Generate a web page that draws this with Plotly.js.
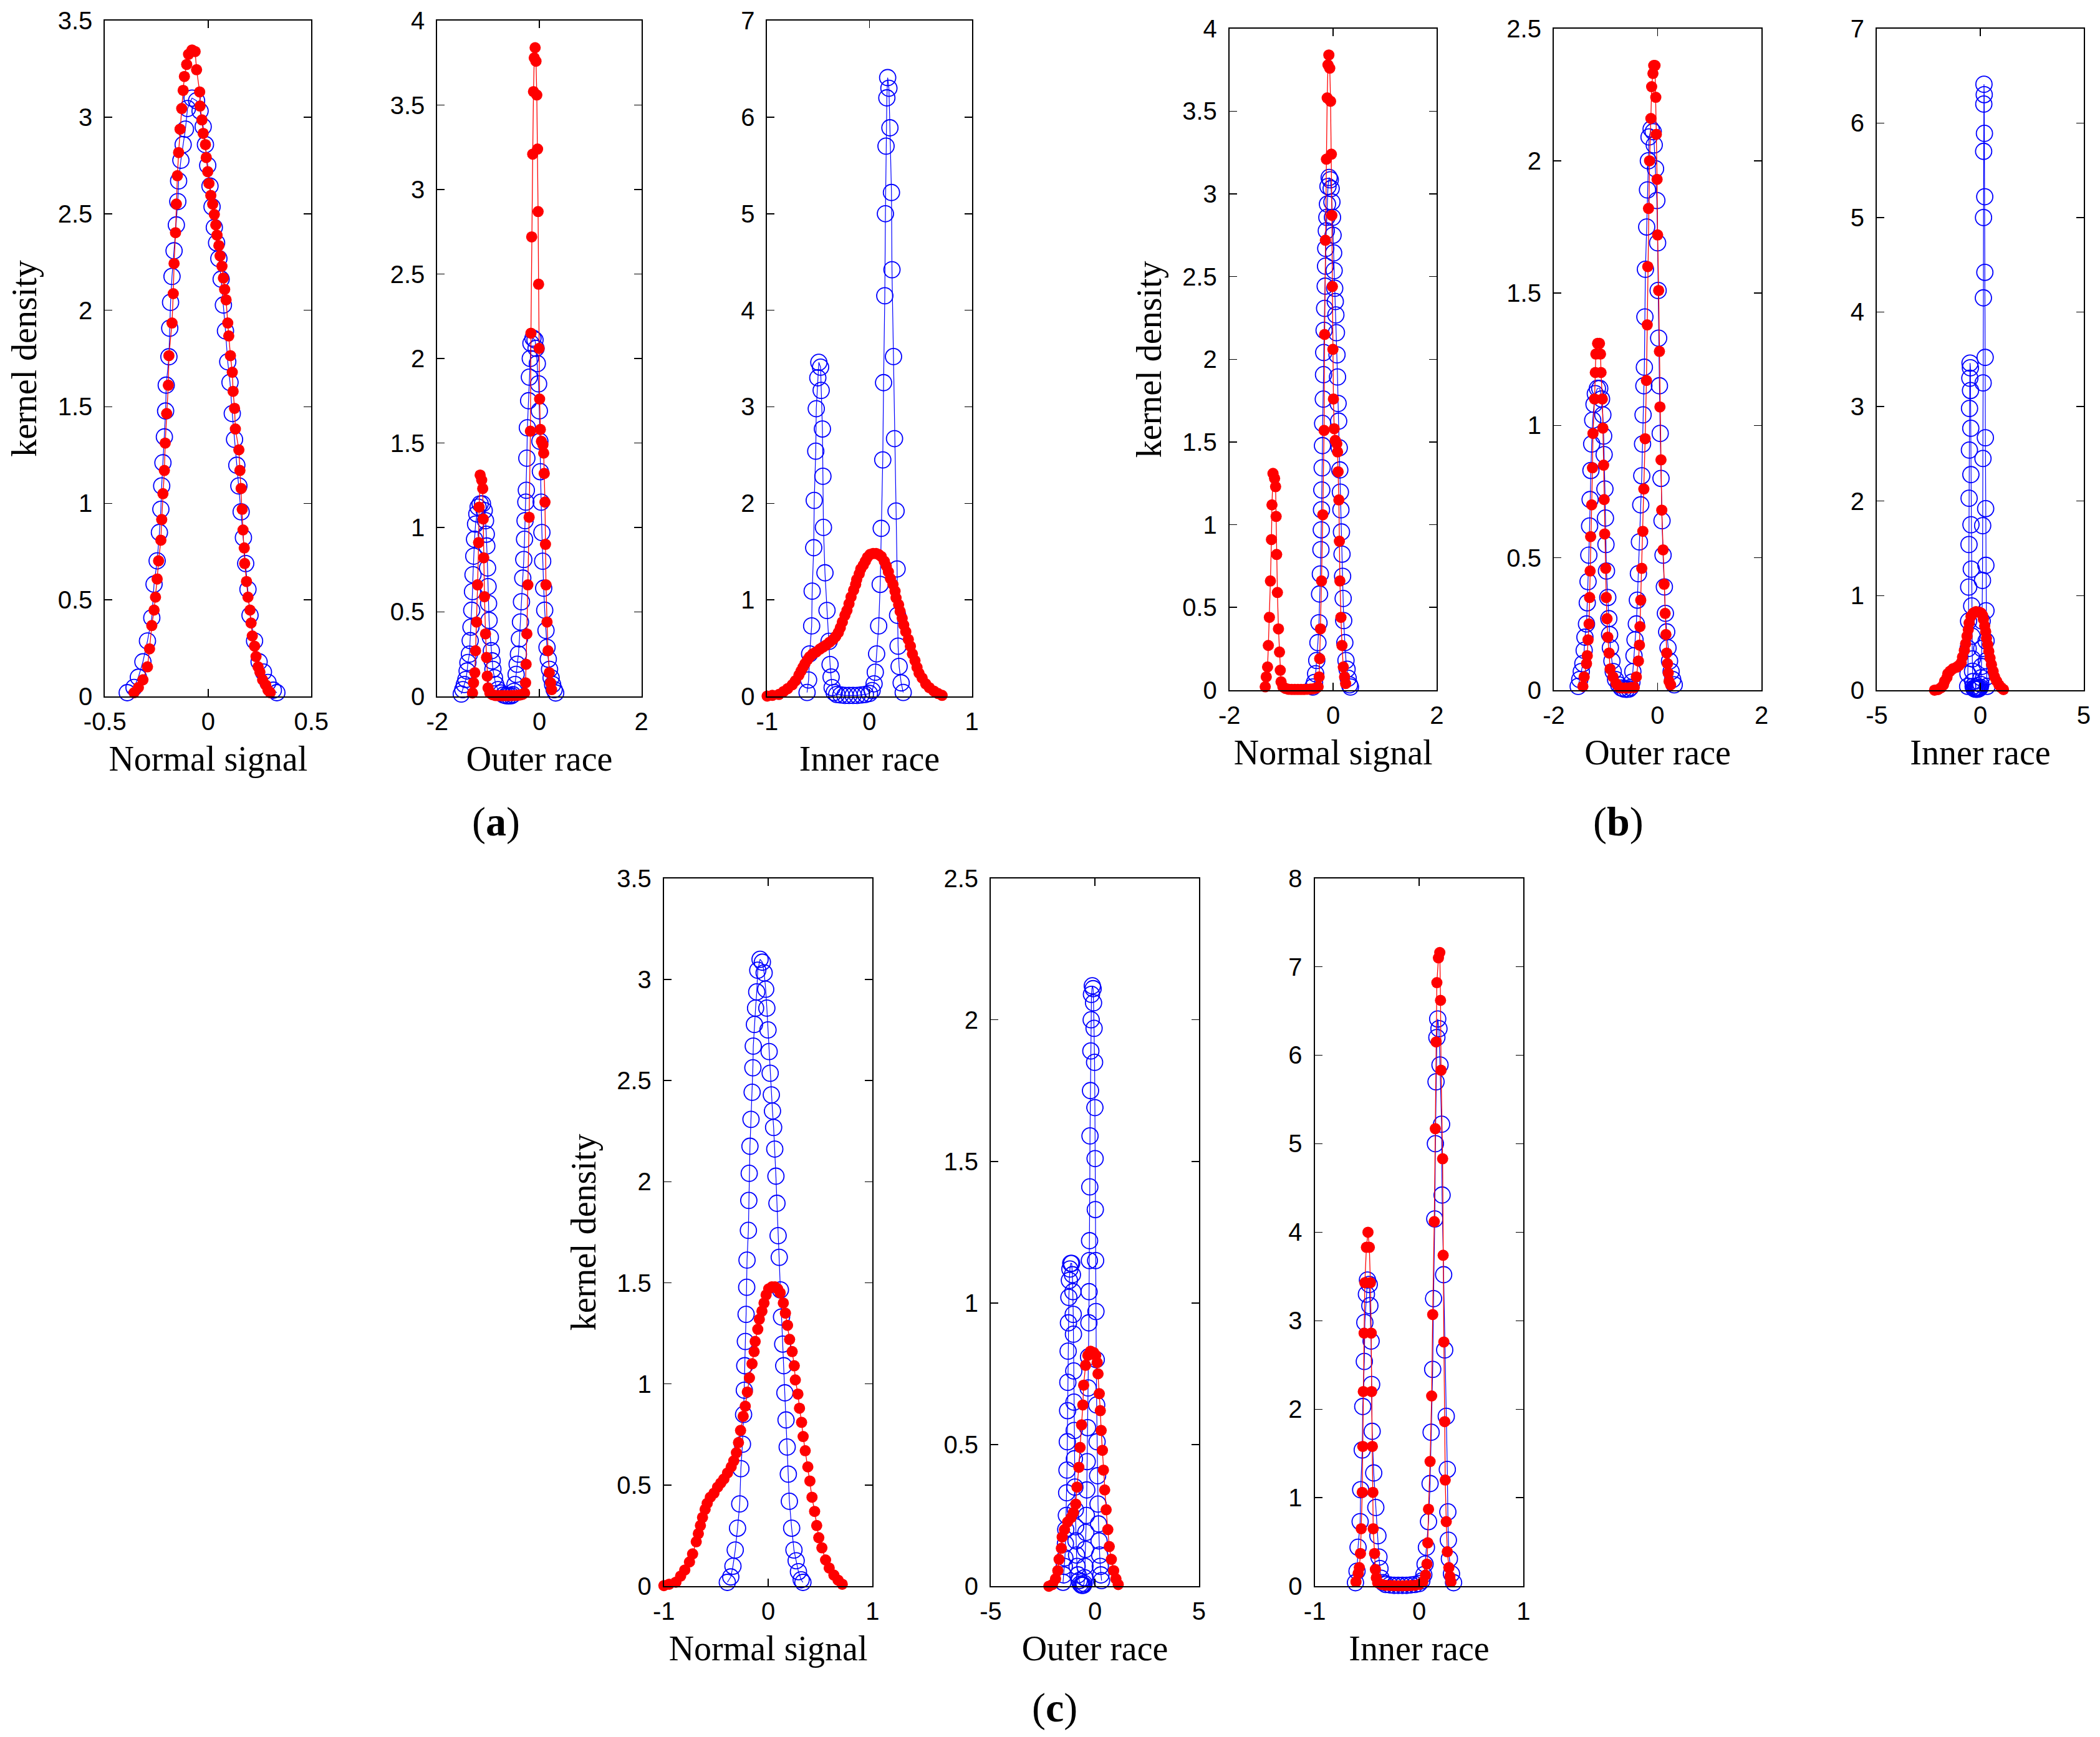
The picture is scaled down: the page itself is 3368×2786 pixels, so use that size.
<!DOCTYPE html>
<html>
<head>
<meta charset="utf-8">
<script src="https://cdn.plot.ly/plotly-3.0.1.min.js"></script>
<style>
  html, body { margin: 0; padding: 0; background: #fff; }
  #fig { width: 3368px; height: 2786px; }
</style>
</head>
<body>
<div id="fig"></div>
<script>
// ---- reference densities (blue, open circles) : same curve in (a), (b), (c)
const normX = [-0.392,-0.359,-0.338,-0.316,-0.294,-0.273,-0.262,-0.247,-0.236,-0.229,-0.225,-0.219,-0.212,-0.206,-0.203,-0.19,-0.186,-0.182,-0.175,-0.165,-0.154,-0.147,-0.143,-0.132,-0.121,-0.11,-0.1,-0.078,-0.056,-0.039,-0.024,-0.013,-0.002,0.009,0.019,0.03,0.041,0.052,0.063,0.074,0.084,0.095,0.106,0.117,0.128,0.139,0.149,0.16,0.171,0.182,0.193,0.203,0.225,0.247,0.268,0.29,0.316,0.333];
const normY = [0.019,0.046,0.099,0.179,0.287,0.407,0.581,0.702,0.849,0.969,1.09,1.21,1.344,1.478,1.612,1.759,1.907,2.041,2.175,2.308,2.442,2.563,2.67,2.777,2.858,2.938,3.045,3.099,3.085,3.032,2.951,2.858,2.75,2.643,2.536,2.429,2.349,2.268,2.161,2.027,1.893,1.733,1.626,1.465,1.331,1.197,1.09,0.956,0.822,0.688,0.554,0.42,0.287,0.179,0.126,0.072,0.032,0.019];

const outerX = [-1.53,-1.50,-1.47,-1.44,-1.415,-1.40,-1.37,-1.355,-1.34,-1.325,-1.31,-1.30,-1.285,-1.27,-1.25,-1.225,-1.20,-1.16,-1.115,-1.08,-1.055,-1.04,-1.03,-1.015,-1.005,-0.995,-0.985,-0.96,-0.94,-0.925,-0.91,-0.88,-0.855,-0.81,-0.75,-0.70,-0.65,-0.60,-0.55,-0.52,-0.495,-0.477,-0.455,-0.435,-0.41,-0.39,-0.37,-0.35,-0.325,-0.305,-0.29,-0.28,-0.265,-0.255,-0.245,-0.235,-0.21,-0.195,-0.178,-0.165,-0.125,-0.085,-0.065,-0.04,-0.015,0.0,0.01,0.02,0.035,0.05,0.065,0.085,0.105,0.13,0.15,0.175,0.2,0.23,0.26,0.29,0.32];
const outerY = [0.014,0.04,0.07,0.10,0.15,0.20,0.25,0.33,0.41,0.51,0.62,0.72,0.83,0.93,1.02,1.08,1.12,1.14,1.14,1.10,1.04,0.96,0.89,0.76,0.65,0.55,0.45,0.35,0.27,0.21,0.16,0.11,0.07,0.04,0.02,0.008,0.004,0.003,0.004,0.01,0.03,0.07,0.13,0.19,0.25,0.34,0.44,0.56,0.70,0.81,0.93,1.04,1.15,1.22,1.41,1.59,1.75,1.89,2.0,2.09,2.12,2.11,2.06,1.97,1.85,1.69,1.51,1.33,1.15,0.97,0.80,0.64,0.51,0.39,0.29,0.22,0.16,0.11,0.07,0.04,0.02];

const innerX = [-0.61,-0.595,-0.585,-0.565,-0.56,-0.545,-0.54,-0.525,-0.52,-0.505,-0.495,-0.478,-0.472,-0.46,-0.455,-0.45,-0.435,-0.415,-0.395,-0.385,-0.375,-0.365,-0.345,-0.32,-0.28,-0.24,-0.20,-0.16,-0.12,-0.08,-0.04,0.0,0.026,0.045,0.057,0.07,0.09,0.105,0.115,0.13,0.138,0.15,0.156,0.162,0.17,0.178,0.19,0.2,0.215,0.22,0.235,0.245,0.26,0.27,0.275,0.28,0.29,0.31,0.33];
const innerY = [0.04,0.17,0.44,0.73,1.09,1.54,2.03,2.54,2.98,3.30,3.46,3.41,3.17,2.77,2.28,1.75,1.28,0.89,0.57,0.33,0.20,0.09,0.04,0.02,0.015,0.01,0.01,0.01,0.01,0.015,0.02,0.03,0.06,0.13,0.25,0.44,0.73,1.16,1.74,2.45,3.25,4.15,5.0,5.70,6.20,6.41,6.30,5.89,5.22,4.42,3.52,2.67,1.92,1.32,0.84,0.52,0.31,0.14,0.04];

// ---- test densities (red, filled dots)
const redA1X = [-0.359,-0.338,-0.316,-0.294,-0.284,-0.273,-0.262,-0.255,-0.247,-0.24,-0.229,-0.225,-0.219,-0.212,-0.208,-0.201,-0.193,-0.19,-0.175,-0.169,-0.165,-0.158,-0.154,-0.149,-0.143,-0.136,-0.128,-0.121,-0.115,-0.104,-0.095,-0.078,-0.063,-0.056,-0.041,-0.039,-0.03,-0.024,-0.013,-0.009,-0.002,0.004,0.013,0.022,0.03,0.037,0.043,0.052,0.058,0.067,0.074,0.08,0.087,0.095,0.1,0.108,0.117,0.121,0.128,0.132,0.149,0.154,0.16,0.165,0.169,0.175,0.177,0.186,0.193,0.203,0.208,0.214,0.225,0.232,0.242,0.251,0.264,0.279,0.29,0.301];
const redA1Y = [0.019,0.046,0.086,0.153,0.246,0.367,0.447,0.514,0.608,0.702,0.809,0.916,1.05,1.17,1.312,1.465,1.612,1.765,1.934,2.086,2.242,2.402,2.55,2.697,2.817,2.938,3.045,3.139,3.211,3.273,3.326,3.348,3.34,3.246,3.131,3.058,2.986,2.916,2.858,2.791,2.718,2.657,2.595,2.55,2.496,2.442,2.389,2.335,2.282,2.228,2.167,2.108,2.054,1.934,1.867,1.765,1.679,1.58,1.492,1.385,1.277,1.17,1.077,0.969,0.862,0.769,0.688,0.595,0.514,0.447,0.38,0.313,0.26,0.206,0.153,0.126,0.086,0.059,0.032,0.019];

const redOuterX = [-1.31,-1.29,-1.265,-1.25,-1.23,-1.21,-1.19,-1.18,-1.16,-1.13,-1.11,-1.10,-1.09,-1.075,-1.055,-1.035,-1.02,-1.005,-0.97,-0.92,-0.86,-0.80,-0.74,-0.68,-0.62,-0.56,-0.50,-0.44,-0.38,-0.33,-0.29,-0.27,-0.26,-0.245,-0.225,-0.2,-0.175,-0.165,-0.15,-0.13,-0.115,-0.1,-0.083,-0.066,-0.05,-0.035,-0.025,-0.015,-0.005,0.005,0.02,0.04,0.07,0.085,0.095,0.11,0.12,0.13,0.15,0.17,0.195,0.22,0.24];
const redOuterY = [0.02,0.08,0.14,0.27,0.44,0.66,0.91,1.12,1.31,1.28,1.23,1.05,0.82,0.59,0.37,0.23,0.12,0.05,0.02,0.01,0.005,0.004,0.004,0.004,0.004,0.004,0.005,0.006,0.008,0.012,0.02,0.08,0.19,0.37,0.66,1.06,1.57,2.15,2.72,3.21,3.58,3.78,3.84,3.76,3.56,3.24,2.87,2.44,2.06,1.76,1.58,1.51,1.49,1.44,1.32,1.15,0.90,0.66,0.44,0.27,0.14,0.08,0.04];

const redInnerX = [-1.0,-0.95,-0.885,-0.84,-0.80,-0.755,-0.725,-0.69,-0.67,-0.65,-0.63,-0.605,-0.585,-0.555,-0.52,-0.485,-0.455,-0.425,-0.39,-0.355,-0.33,-0.305,-0.285,-0.265,-0.24,-0.22,-0.2,-0.18,-0.155,-0.135,-0.125,-0.1,-0.085,-0.06,-0.04,-0.02,0.005,0.035,0.065,0.09,0.115,0.145,0.165,0.185,0.205,0.23,0.25,0.26,0.285,0.30,0.32,0.335,0.355,0.38,0.40,0.42,0.445,0.465,0.485,0.515,0.55,0.585,0.63,0.67,0.71];
const redInnerY = [0.003,0.01,0.02,0.05,0.08,0.12,0.16,0.22,0.26,0.30,0.34,0.38,0.41,0.44,0.46,0.49,0.51,0.53,0.56,0.59,0.62,0.66,0.71,0.77,0.84,0.89,0.96,1.03,1.10,1.16,1.21,1.27,1.32,1.36,1.40,1.44,1.47,1.48,1.48,1.47,1.45,1.40,1.35,1.29,1.22,1.16,1.09,1.02,0.95,0.88,0.81,0.74,0.67,0.59,0.52,0.44,0.37,0.30,0.24,0.19,0.13,0.09,0.055,0.03,0.01];

const redB2X = [-1.44,-1.415,-1.37,-1.355,-1.34,-1.32,-1.31,-1.30,-1.29,-1.27,-1.255,-1.245,-1.215,-1.20,-1.19,-1.157,-1.12,-1.10,-1.09,-1.065,-1.055,-1.04,-1.03,-1.02,-1.0,-0.99,-0.975,-0.96,-0.935,-0.915,-0.86,-0.80,-0.74,-0.68,-0.62,-0.56,-0.50,-0.45,-0.41,-0.37,-0.35,-0.34,-0.325,-0.305,-0.285,-0.265,-0.24,-0.215,-0.20,-0.19,-0.175,-0.155,-0.13,-0.115,-0.09,-0.075,-0.05,-0.035,-0.025,-0.01,0.0,0.02,0.035,0.045,0.065,0.08,0.105,0.125,0.145,0.16,0.175,0.19,0.205,0.22,0.25];
const redB2Y = [0.014,0.05,0.10,0.13,0.19,0.25,0.35,0.45,0.58,0.70,0.84,0.97,1.10,1.20,1.27,1.31,1.31,1.27,1.20,1.10,0.99,0.85,0.72,0.59,0.46,0.35,0.27,0.20,0.14,0.08,0.05,0.025,0.01,0.008,0.008,0.008,0.01,0.01,0.05,0.11,0.17,0.24,0.34,0.46,0.60,0.76,0.95,1.17,1.38,1.60,1.82,2.0,2.16,2.28,2.33,2.36,2.36,2.24,2.10,1.93,1.72,1.51,1.28,1.07,0.87,0.68,0.53,0.40,0.29,0.21,0.14,0.10,0.065,0.033,0.02];

const redWideX = [-2.21,-2.04,-1.89,-1.78,-1.72,-1.61,-1.57,-1.46,-1.31,-1.14,-1.03,-0.92,-0.86,-0.77,-0.71,-0.64,-0.58,-0.54,-0.45,-0.34,-0.21,-0.06,0.04,0.11,0.15,0.21,0.26,0.30,0.36,0.41,0.47,0.54,0.62,0.69,0.79,0.90,1.01,1.12];
const redWideY = [0.0,0.006,0.026,0.055,0.095,0.134,0.174,0.20,0.227,0.243,0.26,0.29,0.35,0.42,0.49,0.57,0.64,0.71,0.78,0.815,0.83,0.825,0.815,0.79,0.75,0.68,0.62,0.55,0.48,0.41,0.34,0.27,0.20,0.14,0.095,0.055,0.026,0.006];

const redC3X = [-0.605,-0.584,-0.573,-0.562,-0.555,-0.545,-0.54,-0.535,-0.527,-0.52,-0.505,-0.49,-0.477,-0.467,-0.459,-0.455,-0.448,-0.443,-0.44,-0.427,-0.419,-0.41,-0.397,-0.36,-0.32,-0.28,-0.24,-0.2,-0.16,-0.12,-0.08,-0.04,0.0,0.035,0.061,0.075,0.083,0.09,0.105,0.12,0.13,0.145,0.155,0.163,0.17,0.185,0.198,0.205,0.21,0.225,0.23,0.237,0.245,0.25,0.26,0.27,0.285,0.295,0.305];
const redC3Y = [0.05,0.145,0.21,0.37,0.65,1.06,1.58,2.20,2.86,3.43,3.83,4.0,3.83,3.43,2.86,2.20,1.58,1.06,0.65,0.37,0.19,0.095,0.04,0.02,0.01,0.008,0.006,0.005,0.005,0.006,0.008,0.01,0.02,0.05,0.126,0.25,0.49,0.87,1.41,2.15,3.07,4.12,5.17,6.15,6.82,7.10,7.16,6.62,5.83,4.83,3.74,2.76,1.86,1.20,0.73,0.39,0.21,0.11,0.05];

// ---- tick labels
const xTicks05 = [-0.5, 0, 0.5];
const xTicks1 = [-1, 0, 1];
const xTicks2 = [-2, 0, 2];
const xTicks5 = [-5, 0, 5];
const yTicks25 = [0, 0.5, 1, 1.5, 2, 2.5];
const yTicks35 = [0, 0.5, 1, 1.5, 2, 2.5, 3, 3.5];
const yTicks4 = [0, 0.5, 1, 1.5, 2, 2.5, 3, 3.5, 4];
const yTicks7 = [0, 1, 2, 3, 4, 5, 6, 7];
const yTicks8 = [0, 1, 2, 3, 4, 5, 6, 7, 8];

const xLabels = ["Normal signal", "Outer race", "Inner race"];
const captions = ["a", "b", "c"];

// ---- panel layout (paper fractions)
const rowA = [0.5991, 0.9881];
const rowB = [0.6027, 0.9836];
const rowC = [0.0868, 0.4944];

const panels = [
  { dx: [0.04997, 0.14825], dy: rowA, xt: xTicks05, yt: yTicks35, bx: normX,  by: normY,  rx: redA1X,    ry: redA1Y,    lab: 0 },
  { dx: [0.20823, 0.30544], dy: rowA, xt: xTicks2,  yt: yTicks4,  bx: outerX, by: outerY, rx: redOuterX, ry: redOuterY, lab: 1 },
  { dx: [0.36532, 0.46274], dy: rowA, xt: xTicks1,  yt: yTicks7,  bx: innerX, by: innerY, rx: redInnerX, ry: redInnerY, lab: 2 },
  { dx: [0.58545, 0.68423], dy: rowB, xt: xTicks2,  yt: yTicks4,  bx: normX,  by: normY,  rx: redOuterX, ry: redOuterY, lab: 0 },
  { dx: [0.73990, 0.83878], dy: rowB, xt: xTicks2,  yt: yTicks25, bx: outerX, by: outerY, rx: redB2X,    ry: redB2Y,    lab: 1 },
  { dx: [0.89371, 0.99228], dy: rowB, xt: xTicks5,  yt: yTicks7,  bx: innerX, by: innerY, rx: redWideX,  ry: redWideY,  lab: 2 },
  { dx: [0.31615, 0.41547], dy: rowC, xt: xTicks1,  yt: yTicks35, bx: normX,  by: normY,  rx: redInnerX, ry: redInnerY, lab: 0 },
  { dx: [0.47180, 0.57096], dy: rowC, xt: xTicks5,  yt: yTicks25, bx: outerX, by: outerY, rx: redWideX,  ry: redWideY,  lab: 1 },
  { dx: [0.62607, 0.72548], dy: rowC, xt: xTicks1,  yt: yTicks8,  bx: innerX, by: innerY, rx: redC3X,    ry: redC3Y,    lab: 2 }
];

const tickFont = { family: "Liberation Sans, Arial, sans-serif", size: 40, color: "#000" };
const titleFont = { family: "Liberation Serif, Times New Roman, serif", size: 56, color: "#000" };

var data = [];
var layout = {
  width: 3368,
  height: 2786,
  margin: { l: 0, r: 0, t: 0, b: 0 },
  paper_bgcolor: "#fff",
  plot_bgcolor: "#fff",
  showlegend: false,
  annotations: []
};

function baseAxis() {
  return {
    showline: true, linecolor: "#000", linewidth: 2, mirror: "ticks",
    ticks: "inside", ticklen: 12, tickwidth: 1.5, tickcolor: "#000",
    showgrid: false, zeroline: false, fixedrange: true,
    tickfont: tickFont, tickmode: "array"
  };
}

panels.forEach(function (p, i) {
  var n = i === 0 ? "" : String(i + 1);

  var xa = baseAxis();
  xa.domain = p.dx;
  xa.anchor = "y" + n;
  xa.range = [p.xt[0], p.xt[p.xt.length - 1]];
  xa.tickvals = p.xt;
  xa.ticktext = p.xt.map(String);
  xa.ticklabelstandoff = 4;
  xa.title = { text: xLabels[p.lab], font: titleFont, standoff: 19 };
  layout["xaxis" + n] = xa;

  var ya = baseAxis();
  ya.domain = p.dy;
  ya.anchor = "x" + n;
  ya.range = [p.yt[0], p.yt[p.yt.length - 1]];
  ya.tickvals = p.yt;
  ya.ticktext = p.yt.map(String);
  ya.ticklabelstandoff = 10;
  if (p.lab === 0) ya.title = { text: "kernel density", font: titleFont, standoff: 16 };
  layout["yaxis" + n] = ya;

  // reference curve: blue open circles
  data.push({
    x: p.bx, y: p.by, xaxis: "x" + n, yaxis: "y" + n,
    type: "scatter", mode: "lines+markers", cliponaxis: false,
    line: { color: "#0000ff", width: 1.2 },
    marker: { symbol: "circle-open", size: 26, color: "#0000ff", line: { width: 1.8 } }
  });
  // test curve: red filled dots
  data.push({
    x: p.rx, y: p.ry, xaxis: "x" + n, yaxis: "y" + n,
    type: "scatter", mode: "lines+markers", cliponaxis: false,
    line: { color: "#ff0000", width: 1.3 },
    marker: { symbol: "circle", size: 18, color: "#ff0000", line: { width: 0 } }
  });
});

// panel captions (a) (b) (c)
var capPos = [[0.2361, 0.5269], [0.7705, 0.5269], [0.5021, 0.0169]];
captions.forEach(function (c, i) {
  layout.annotations.push({
    text: "(<b>" + c + "</b>)", xref: "paper", yref: "paper",
    x: capPos[i][0], y: capPos[i][1], xanchor: "center", yanchor: "middle",
    showarrow: false,
    font: { family: "Liberation Serif, Times New Roman, serif", size: 66, color: "#000" }
  });
});

Plotly.newPlot("fig", data, layout, { staticPlot: true });
</script>
</body>
</html>
